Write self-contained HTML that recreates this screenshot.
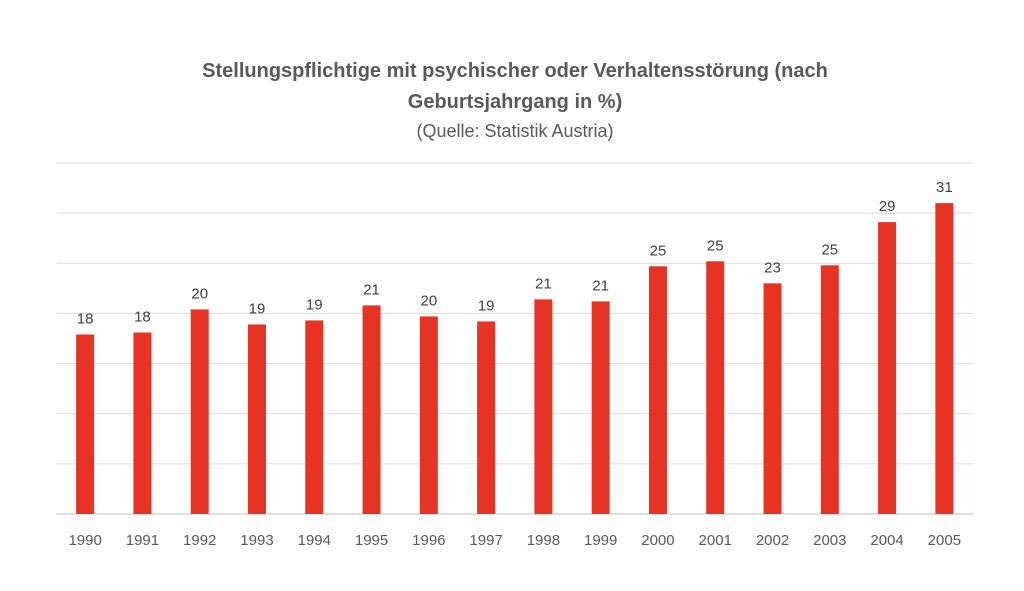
<!DOCTYPE html>
<html><head><meta charset="utf-8"><style>
html,body{margin:0;padding:0;background:#fff;}
svg{display:block;font-family:"Liberation Sans",sans-serif;}
</style></head><body>
<svg id="chart" width="1024" height="591" viewBox="0 0 1024 591">
<text x="515" y="77" text-anchor="middle" font-size="20" font-weight="bold" fill="#595959">Stellungspflichtige mit psychischer oder Verhaltensstörung (nach</text>
<text x="515" y="108" text-anchor="middle" font-size="20" font-weight="bold" fill="#595959">Geburtsjahrgang in %)</text>
<text x="515" y="137" text-anchor="middle" font-size="18" fill="#595959">(Quelle: Statistik Austria)</text>
<g id="grid"></g><g id="bars"></g><g id="labels"></g><g id="xaxis"></g>
</svg>
<script>
const categories=["1990","1991","1992","1993","1994","1995","1996","1997","1998","1999","2000","2001","2002","2003","2004","2005"];
const values=[17.9,18.1,20.4,18.9,19.3,20.8,19.7,19.2,21.4,21.2,24.7,25.2,23,24.8,29.1,31];
const gridTicks=[0,5,10,15,20,25,30,35];
const NS="http://www.w3.org/2000/svg";
const x0=56.5,x1=973,yBase=514,yTop=163,yMax=35;
const band=(x1-x0)/categories.length;
const xC=i=>x0+band*(i+0.5);
const y=v=>yBase-(yBase-yTop)*v/yMax;
function mk(tag,attrs,parent){const e=document.createElementNS(NS,tag);for(const k in attrs)e.setAttribute(k,attrs[k]);parent.appendChild(e);return e;}
const g=document.getElementById('grid'),b=document.getElementById('bars'),l=document.getElementById('labels'),xa=document.getElementById('xaxis');
gridTicks.forEach(t=>{
 const ln=mk('line',{x1:x0,x2:x1,y1:y(t),y2:y(t),stroke:t===0?'#bfbfbf':'#d9d9d9','stroke-width':1},g);
 
 
});
categories.forEach((c,i)=>{
 const r=mk('rect',{x:xC(i)-9,y:y(values[i]),width:18,height:yBase-y(values[i]),fill:'#e63323'},b);
 
 
 const t=mk('text',{x:xC(i),y:y(values[i])-11,'text-anchor':'middle','font-size':15,fill:'#404040'},l);
 t.textContent=Math.round(values[i]);
 
 
 const xt=mk('text',{x:xC(i),y:545,'text-anchor':'middle','font-size':15,fill:'#595959'},xa);
 xt.textContent=c;
 
 
});
</script>
</body></html>
